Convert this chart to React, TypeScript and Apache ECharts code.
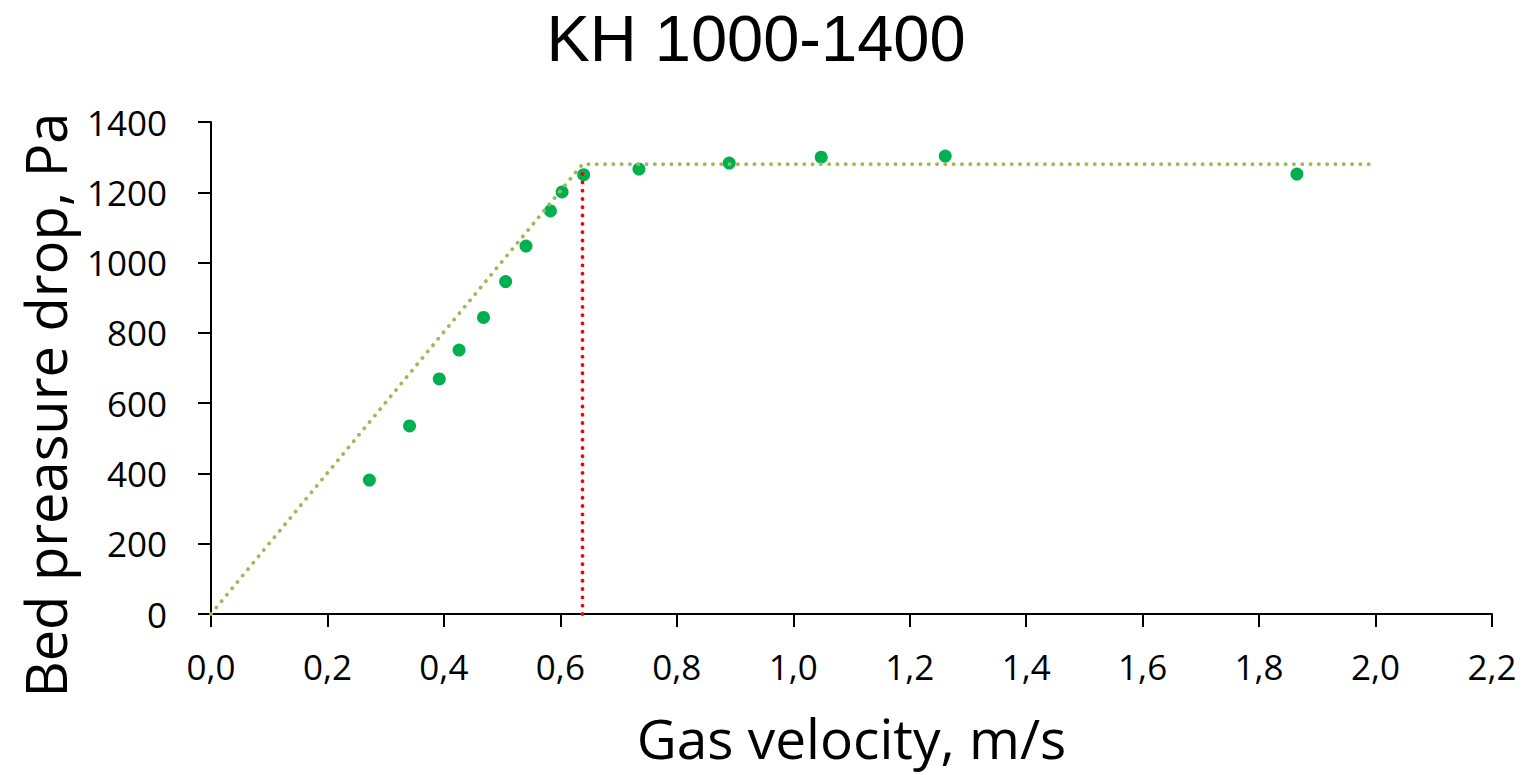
import React, { useEffect, useRef } from "react";
import * as echarts from "echarts";

const titleText = "KH 1000-1400";
const xAxisName = "Gas velocity, m/s";
const yAxisName = "Bed preasure drop, Pa";

const velocity = [0.272, 0.341, 0.392, 0.426, 0.468, 0.506, 0.541, 0.583, 0.603, 0.640, 0.735, 0.890, 1.048, 1.261, 1.865];
const pressureDrop = [381, 535, 669, 751, 844, 946, 1047, 1147, 1201, 1250, 1266, 1283, 1300, 1303, 1252];

const fitX = [0, 0.638, 1.99];
const fitY = [0, 1280, 1280];

const markerX = [0.638, 0.638];
const markerY = [0, 1272];

const FONT = "Open Sans";

export default function App() {
  const ref = useRef<HTMLDivElement>(null);
  useEffect(() => {
    document.body.style.margin = "0";
    const chart = echarts.init(ref.current!, null, { renderer: "svg" });
    const fmt = (v: number) => v.toFixed(1).replace(".", ",");
    chart.setOption({
      animation: false,
      backgroundColor: "#ffffff",
      textStyle: { fontFamily: FONT },
      grid: { left: 211, right: 36, top: 122, bottom: 161, containLabel: false },
      xAxis: {
        type: "value",
        min: 0,
        max: 2.2,
        interval: 0.2,
        name: xAxisName,
        nameLocation: "middle",
        nameGap: 96,
        nameTextStyle: { fontSize: 55, lineHeight: 55, color: "#000", fontFamily: FONT },
        axisLine: { show: true, lineStyle: { color: "#000", width: 2 } },
        axisTick: { show: true, length: 13, lineStyle: { color: "#000", width: 2 } },
        axisLabel: { formatter: fmt, fontSize: 35, color: "#000", margin: 35, fontFamily: FONT },
        splitLine: { show: false },
      },
      yAxis: {
        type: "value",
        min: 0,
        max: 1400,
        interval: 200,
        axisLine: { show: true, lineStyle: { color: "#000", width: 2 } },
        axisTick: { show: true, length: 13, lineStyle: { color: "#000", width: 2 } },
        axisLabel: { formatter: (v: number) => String(v), fontSize: 35, color: "#000", margin: 44, fontFamily: FONT },
        splitLine: { show: false },
      },
      graphic: [
        {
          type: "text",
          x: 756,
          y: 38,
          style: { text: titleText, fontSize: 65, lineHeight: 65, fontFamily: "Liberation Sans", fill: "#000", align: "center", verticalAlign: "middle" },
        },
        {
          type: "text",
          x: 45,
          y: 405,
          rotation: Math.PI / 2,
          style: { text: yAxisName, fontSize: 56, fontFamily: FONT, fill: "#000", align: "center", verticalAlign: "middle" },
        },
      ],
      series: [
        {
          type: "scatter",
          data: velocity.map((v, i) => [v, pressureDrop[i]]),
          symbol: "circle",
          symbolSize: 13,
          itemStyle: { color: "#00B050", opacity: 1 },
          z: 2,
        },
        {
          type: "line",
          data: fitX.map((v, i) => [v, fitY[i]]),
          showSymbol: false,
          symbol: "none",
          lineStyle: { color: "#9BBB59", width: 3.8, type: [0.1, 8.2], cap: "round" },
          z: 3,
        },
        {
          type: "line",
          data: markerX.map((v, i) => [v, markerY[i]]),
          showSymbol: false,
          symbol: "none",
          lineStyle: { color: "#FF0000", width: 3.8, type: [0.1, 8.2], cap: "round" },
          z: 3,
        },
      ],
    });
    return () => chart.dispose();
  }, []);
  return <div ref={ref} style={{ width: 1528, height: 775 }} />;
}
